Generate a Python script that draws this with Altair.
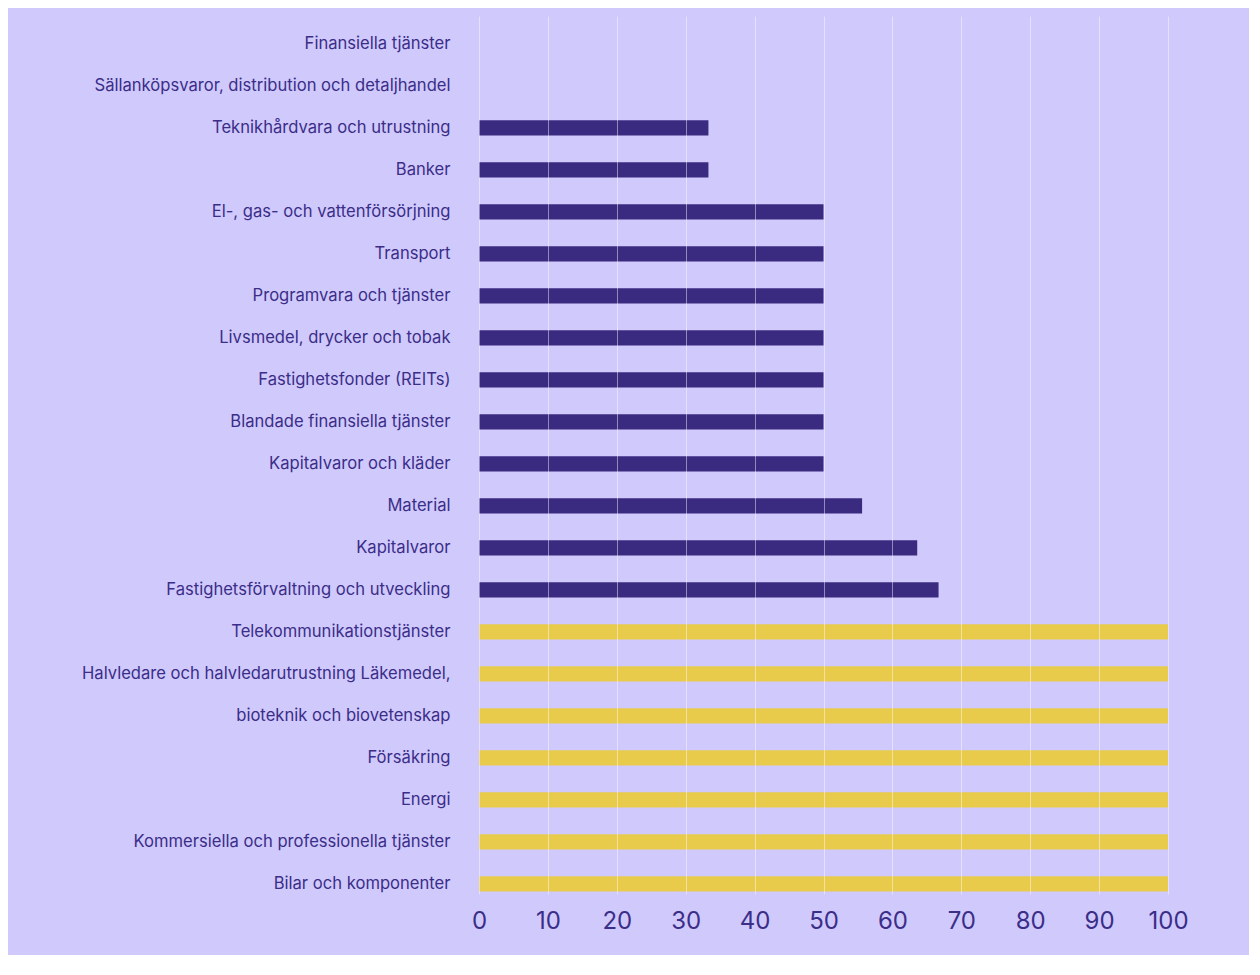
import altair as alt
import pandas as pd

categories = [
    "Finansiella tjänster",
    "Sällanköpsvaror, distribution och detaljhandel",
    "Teknikhårdvara och utrustning",
    "Banker",
    "El-, gas- och vattenförsörjning",
    "Transport",
    "Programvara och tjänster",
    "Livsmedel, drycker och tobak",
    "Fastighetsfonder (REITs)",
    "Blandade finansiella tjänster",
    "Kapitalvaror och kläder",
    "Material",
    "Kapitalvaror",
    "Fastighetsförvaltning och utveckling",
    "Telekommunikationstjänster",
    "Halvledare och halvledarutrustning Läkemedel,",
    "bioteknik och biovetenskap",
    "Försäkring",
    "Energi",
    "Kommersiella och professionella tjänster",
    "Bilar och komponenter",
]
values = [0, 0, 33.3, 33.3, 50, 50, 50, 50, 50, 50, 50, 55.6, 63.6, 66.7,
          100, 100, 100, 100, 100, 100, 100]
groups = ["under"] * 14 + ["full"] * 7

group_domain = ["under", "full"]
group_colors = ["#3a2b80", "#e9cb4c"]
x_ticks = [0, 10, 20, 30, 40, 50, 60, 70, 80, 90, 100]

df = pd.DataFrame({"category": categories, "value": values, "group": groups})

bg = "#d0c9fc"
text_color = "#3b2e88"

chart = alt.Chart(df).mark_bar().encode(
    y=alt.Y(
        "category:N",
        sort=categories,
        title=None,
        scale=alt.Scale(paddingInner=0.64, paddingOuter=0.2724, align=0.89),
        axis=alt.Axis(
            domain=False, ticks=False, grid=False,
            labelFont="Inter", labelFontSize=16.6, labelColor=text_color,
            labelPadding=29, labelLimit=600,
        ),
    ),
    x=alt.X(
        "value:Q",
        title=None,
        scale=alt.Scale(domain=[0, 100], nice=False),
        axis=alt.Axis(
            values=x_ticks, domain=False, ticks=False,
            grid=True, gridColor="#ffffff", gridOpacity=0.45, gridWidth=1,
            labelFont="Inter", labelFontSize=24, labelColor=text_color,
            labelPadding=15, zindex=1, labelFlush=False,
        ),
    ),
    color=alt.Color(
        "group:N",
        scale=alt.Scale(domain=group_domain, range=group_colors),
        legend=None,
    ),
).properties(
    width=689,
    height=878,
    background=bg,
    padding={"left": 73, "top": 8, "right": 60, "bottom": 22},
).configure_view(stroke=None)

chart.save("out.html", embed_options={"renderer": "svg", "actions": False})
